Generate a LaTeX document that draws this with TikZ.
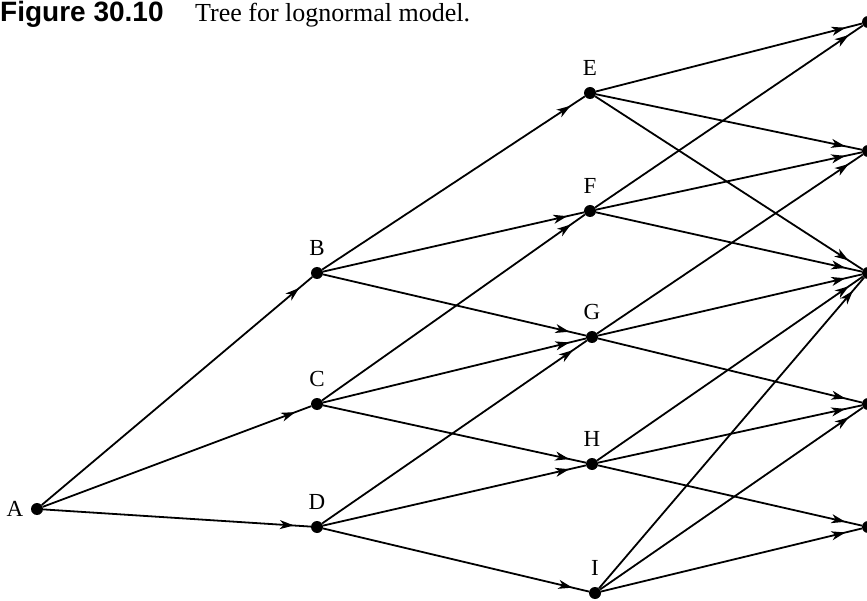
\documentclass[tikz,border=0pt]{standalone}
\usepackage{fontspec}
\setmainfont{Liberation Serif}
\newfontfamily\capsans{Liberation Sans}
\usetikzlibrary{arrows.meta,decorations.markings}
\tikzset{
  dot/.style={circle,fill=black,inner sep=0pt,minimum size=12pt},
  branch/.style={line width=1.8pt,postaction={decorate},
    decoration={markings,mark=at position -17pt with {\arrow{Stealth[length=14pt,width=9pt,inset=4pt]}}}}
}

\begin{document}
\begin{tikzpicture}[x=1pt,y=-1pt,every label/.style={font=\fontsize{23}{23}\selectfont},label distance=8pt]
\useasboundingbox (0,0) rectangle (867,601);
% caption
\node[anchor=base west,inner sep=0pt,font=\capsans\bfseries\fontsize{28}{28}\selectfont] (fig) at (0,22) {Figure 30.10};
\node[anchor=base west,inner sep=0pt,font=\fontsize{26}{26}\selectfont] (cap) at (195,22) {Tree for lognormal model.};

% root and first step
\node[dot,label={[label distance=4pt]left:A}] (A) at (37,509) {};
\node[dot,label=above:B] (B) at (317,273) {};
\node[dot,label=above:C] (C) at (317,404) {};
\node[dot,label=above:D] (D) at (317,527) {};
% second step
\node[dot,label=above:E] (E) at (590,93) {};
\node[dot,label=above:F] (F) at (590,211) {};
\node[dot,label=above:G] (G) at (592,337) {};
\node[dot,label=above:H] (H) at (592,464) {};
\node[dot,label=above:I] (I) at (595,593) {};
% third step (cut by the right edge)
\node[dot] (t1) at (868,22) {};
\node[dot] (t2) at (868,151) {};
\node[dot] (t3) at (868,273) {};
\node[dot] (t4) at (868,404) {};
\node[dot] (t5) at (868,527) {};

\foreach \s/\t in {A/B,A/C,A/D,
  B/E,B/F,B/G,C/F,C/G,C/H,D/G,D/H,D/I,
  E/t1,E/t2,E/t3,F/t1,F/t2,F/t3,G/t2,G/t3,G/t4,
  H/t3,H/t4,H/t5,I/t3,I/t4,I/t5}
  \draw[branch] (\s) -- (\t);
\end{tikzpicture}
\end{document}
